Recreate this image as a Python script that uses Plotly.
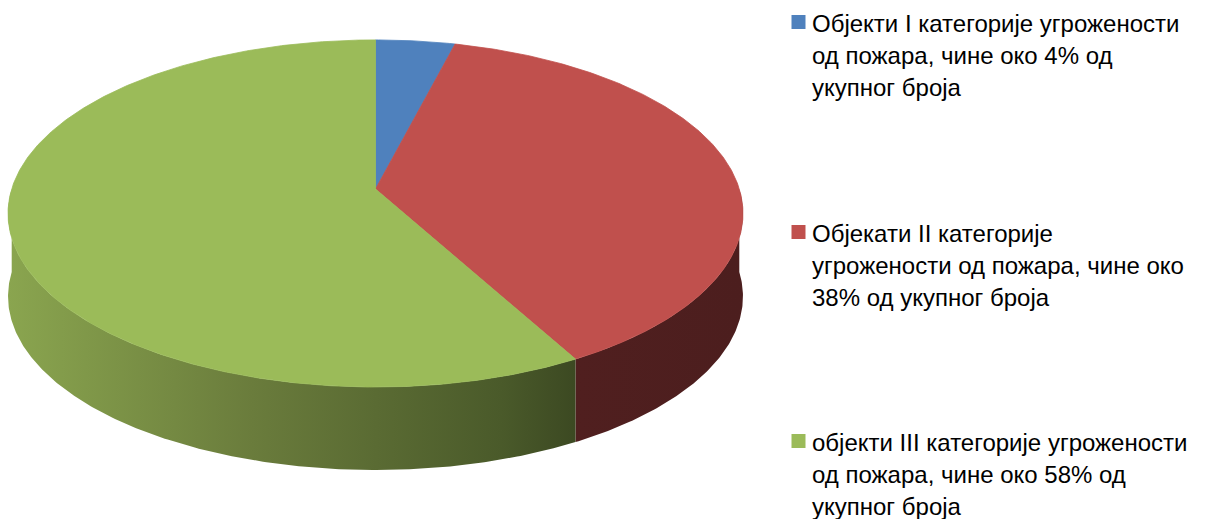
import numpy as np
import plotly.graph_objects as go

# ---- data ----
values = [4, 38, 58]
labels = [
    "Објекти I категорије угрожености<br>од пожара, чине око 4% од<br>укупног броја",
    "Објекати II категорије<br>угрожености од пожара, чине око<br>38% од укупног броја",
    "објекти III категорије угрожености<br>од пожара, чине око 58% од<br>укупног броја",
]
top_colors = ["#4F81BD", "#C0504D", "#9BBB59"]
wall_scales = [
    [[0, "#34557E"], [1, "#263F5E"]],
    [[0, "#501F1F"], [1, "#4C1E1E"]],
    [[0, "#8AA54F"], [0.43, "#6A7C3C"], [0.87, "#4A5A2A"], [1, "#3C4922"]],
]

# ---- geometry (pixel space, perspective-projected 3D pie) ----
W, H = 1208, 519
CX, CY = 375.5, 189.0
R, S, K = 363.8, 170.1, 0.141
DEPTH = 83.0


def proj(theta_deg):
    t = np.radians(theta_deg)
    a = np.sin(t)
    b = -np.cos(t)
    f = 1.0 / (1.0 - K * b)
    return CX + R * a * f, CY + S * b * f


bounds = np.concatenate([[0], np.cumsum(values)]) / sum(values) * 360.0

fig = go.Figure()

# side walls (front half only)
for i in range(len(values)):
    lo, hi = max(bounds[i], 90.0), min(bounds[i + 1], 270.0)
    if lo >= hi:
        continue
    th = np.linspace(lo, hi, max(int((hi - lo) * 2), 4))
    xs, ys = proj(th)
    px = np.concatenate([xs, xs[::-1], [xs[0]]])
    py = np.concatenate([ys, (ys + DEPTH)[::-1], [ys[0]]])
    fig.add_trace(go.Scatter(
        x=px, y=py, mode="lines", fill="toself",
        line=dict(width=0, color=wall_scales[i][-1][1]),
        fillcolor=wall_scales[i][-1][1],
        fillgradient=dict(type="horizontal", colorscale=wall_scales[i]),
        hoverinfo="skip", showlegend=False,
    ))

# top faces
for i in range(len(values)):
    th = np.linspace(bounds[i], bounds[i + 1], max(int((bounds[i + 1] - bounds[i]) * 2), 4))
    xs, ys = proj(th)
    px = np.concatenate([[CX], xs, [CX]])
    py = np.concatenate([[CY], ys, [CY]])
    fig.add_trace(go.Scatter(
        x=px, y=py, mode="lines", fill="toself",
        line=dict(width=0.8, color=top_colors[i]),
        fillcolor=top_colors[i],
        hoverinfo="text", hoverlabel=dict(namelength=0),
        text=labels[i].replace("<br>", " "),
        showlegend=False,
    ))

# ---- legend (squares + text) ----
LEG_X = 798.5
TEXT_X = 811
item_y = [23, 233, 442]
LINE_H = 32
fig.add_trace(go.Scatter(
    x=[LEG_X] * len(values), y=[y - 1 for y in item_y], mode="markers",
    marker=dict(symbol="square", size=14, color=top_colors, line=dict(width=0)),
    hoverinfo="skip", showlegend=False,
))
FONT = dict(family="Liberation Sans, Arial", size=24, color="#000000")
for i, lab in enumerate(labels):
    for j, line in enumerate(lab.split("<br>")):
        fig.add_annotation(
            x=TEXT_X, y=item_y[i] + j * LINE_H, xref="x", yref="y",
            text=line, showarrow=False, xanchor="left", yanchor="middle",
            font=FONT, borderpad=0,
        )

fig.update_layout(
    width=W, height=H,
    margin=dict(l=0, r=0, t=0, b=0),
    paper_bgcolor="white", plot_bgcolor="white",
    xaxis=dict(range=[0, W], visible=False, fixedrange=True),
    yaxis=dict(range=[H, 0], visible=False, fixedrange=True),
    showlegend=False,
)

fig.write_html(
    "out.html",
    config={"displayModeBar": False},
    post_script="document.body.style.margin='0';document.body.style.overflow='hidden';",
)
